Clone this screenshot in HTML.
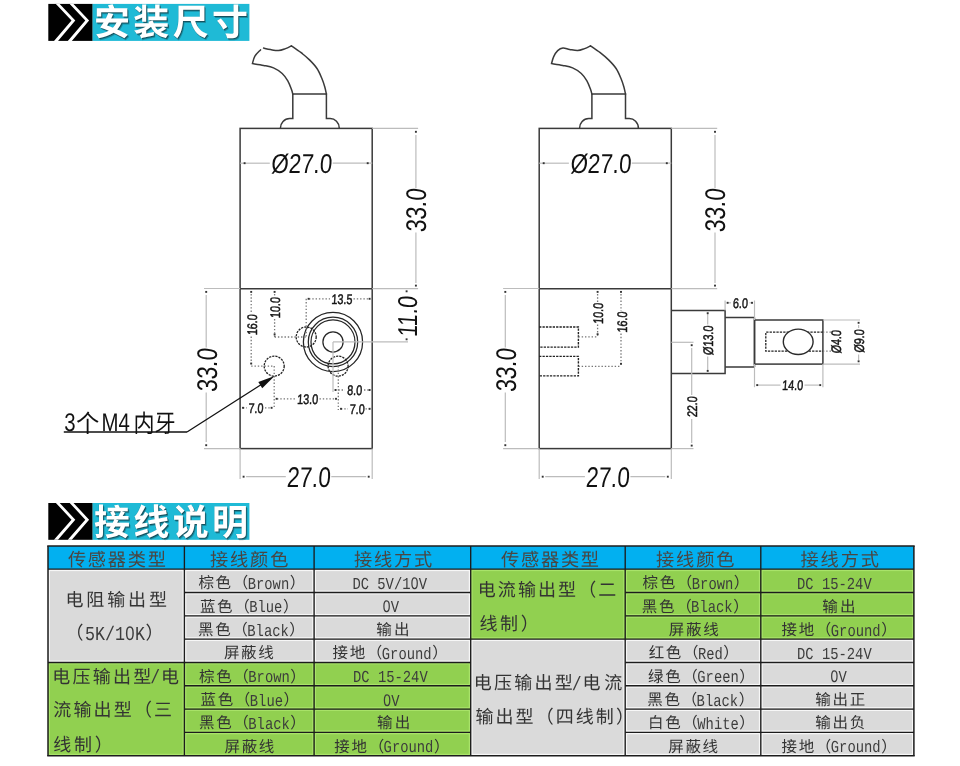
<!DOCTYPE html>
<html lang="zh-CN">
<head>
<meta charset="utf-8">
<title>安装尺寸 / 接线说明</title>
<style>
html,body{margin:0;padding:0;background:#fff}
body{width:960px;height:766px;overflow:hidden;font-family:"Liberation Sans",sans-serif}
svg{display:block}
text{white-space:pre;text-rendering:geometricPrecision}
.cj{font-family:"Liberation Sans","Noto Sans CJK SC",sans-serif}
</style>
</head>
<body>
<svg width="960" height="766" viewBox="0 0 960 766" role="img">
<g opacity="0.999">
<rect x="48.3" y="3.9" width="44.4" height="37" fill="#000"/>
<rect x="92.6" y="3.9" width="156.8" height="37" fill="#1fbad6"/>
<polygon points="55.9,3.9 59.7,3.9 75.3,20.62 58,40.9 54,40.9 71.5,20.62" fill="#fff"/>
<polygon points="69.7,3.9 73.5,3.9 89.1,20.62 71.8,40.9 67.8,40.9 85.3,20.62" fill="#fff"/>
<text class="cj" x="94" y="35.2" font-size="36" font-weight="bold" fill="#10242a" opacity="0.3" textLength="154" transform="translate(1.5 1.5)">安装尺寸</text>
<text class="cj" x="94" y="35.2" font-size="36" font-weight="bold" fill="#10242a" opacity="0.55" textLength="154" transform="translate(0.8 0.8)">安装尺寸</text>
<text class="cj" x="94" y="35.2" font-size="36" font-weight="bold" fill="#10242a" opacity="0.18" textLength="154" transform="translate(-0.5 -0.5)">安装尺寸</text>
<text class="cj" x="94" y="35.2" font-size="36" font-weight="bold" fill="#fff" textLength="154">安装尺寸</text>
<rect x="48.3" y="503" width="44.4" height="36.8" fill="#000"/>
<rect x="92.6" y="503" width="156.8" height="36.8" fill="#1fbad6"/>
<polygon points="55.9,503 59.7,503 75.3,519.63 58,539.8 54,539.8 71.5,519.63" fill="#fff"/>
<polygon points="69.7,503 73.5,503 89.1,519.63 71.8,539.8 67.8,539.8 85.3,519.63" fill="#fff"/>
<text class="cj" x="94" y="535" font-size="36" font-weight="bold" fill="#10242a" opacity="0.3" textLength="154" transform="translate(1.5 1.5)">接线说明</text>
<text class="cj" x="94" y="535" font-size="36" font-weight="bold" fill="#10242a" opacity="0.55" textLength="154" transform="translate(0.8 0.8)">接线说明</text>
<text class="cj" x="94" y="535" font-size="36" font-weight="bold" fill="#10242a" opacity="0.18" textLength="154" transform="translate(-0.5 -0.5)">接线说明</text>
<text class="cj" x="94" y="535" font-size="36" font-weight="bold" fill="#fff" textLength="154">接线说明</text>
<path d="M280.4 128.4 A9.2 9.6 0 0 1 289.6 118.6 H292.8 V94.1 H326.4 V118.6 H329.6 A9.2 9.6 0 0 1 339.3 128.4" fill="none" stroke="#3a3a3a" stroke-width="1.5"/>
<path d="M292.8 94.1 C292.58 93.35 292.33 91.8 291.5 89.6 C290.67 87.4 289.35 83.58 287.8 80.9 C286.25 78.22 284.58 75.67 282.2 73.5 C279.82 71.33 276.6 69.25 273.5 67.9 C270.4 66.55 267.12 66.12 263.6 65.4 C260.08 64.68 254.27 63.9 252.4 63.6 M252.4 63.6 C252.82 62.35 253.55 58.38 254.9 56.1 C256.25 53.82 259.57 50.93 260.5 49.9 M263.6 48.1 C264.75 48.35 268.02 49.18 270.5 49.6 C272.98 50.02 276 50.77 278.5 50.6 C281 50.43 283.33 49.4 285.5 48.6 C287.67 47.8 290.5 46.27 291.5 45.8 M291.5 45.8 C293.05 46.9 297.8 50.05 300.8 52.4 C303.8 54.75 306.8 57.22 309.5 59.9 C312.2 62.58 314.93 65.4 317 68.5 C319.07 71.6 320.6 75.42 321.9 78.5 C323.2 81.58 324.05 84.4 324.8 87 C325.55 89.6 326.13 92.92 326.4 94.1" fill="none" stroke="#3a3a3a" stroke-width="1.5" stroke-linejoin="round" stroke-linecap="round"/>
<rect x="240.1" y="128.4" width="132.1" height="320.2" fill="none" stroke="#3a3a3a" stroke-width="1.5"/>
<line x1="240.1" y1="288.7" x2="372.2" y2="288.7" stroke="#3a3a3a" stroke-width="1.5"/>
<line x1="240.1" y1="163.2" x2="269.8" y2="163.2" stroke="#bcbcbc" stroke-width="1.2"/>
<line x1="332.7" y1="163.2" x2="372.2" y2="163.2" stroke="#bcbcbc" stroke-width="1.2"/>
<rect x="243.65" y="162.25" width="1.9" height="1.9" fill="#333"/>
<rect x="366.75" y="162.25" width="1.9" height="1.9" fill="#333"/>
<text font-family="Liberation Sans" font-size="27.3" font-weight="normal" fill="#111" text-anchor="middle" transform="translate(301.3 163.4) rotate(0) translate(0 9.77) skewX(-4) scale(0.82 1)">Ø27.0</text>
<line x1="372.2" y1="128.4" x2="418.1" y2="128.4" stroke="#bcbcbc" stroke-width="1.2"/>
<line x1="372.2" y1="288.7" x2="418.1" y2="288.7" stroke="#bcbcbc" stroke-width="1.2"/>
<line x1="415.9" y1="135" x2="415.9" y2="188.3" stroke="#bcbcbc" stroke-width="1.2"/>
<line x1="415.9" y1="232.5" x2="415.9" y2="283" stroke="#bcbcbc" stroke-width="1.2"/>
<rect x="414.95" y="130.85" width="1.9" height="1.9" fill="#333"/>
<rect x="414.95" y="284.65" width="1.9" height="1.9" fill="#333"/>
<text font-family="Liberation Sans" font-size="28.5" font-weight="normal" fill="#111" text-anchor="middle" transform="translate(416.1 210.6) rotate(-90) translate(0 10.2) skewX(-4) scale(0.79 1)">33.0</text>
<line x1="204" y1="288.5" x2="240.1" y2="288.5" stroke="#bcbcbc" stroke-width="1.2"/>
<line x1="204" y1="448.6" x2="240.1" y2="448.6" stroke="#bcbcbc" stroke-width="1.2"/>
<line x1="206.2" y1="295" x2="206.2" y2="347.5" stroke="#bcbcbc" stroke-width="1.2"/>
<line x1="206.2" y1="392.5" x2="206.2" y2="442" stroke="#bcbcbc" stroke-width="1.2"/>
<rect x="205.25" y="290.95" width="1.9" height="1.9" fill="#333"/>
<rect x="205.25" y="444.25" width="1.9" height="1.9" fill="#333"/>
<text font-family="Liberation Sans" font-size="28.5" font-weight="normal" fill="#111" text-anchor="middle" transform="translate(206.5 370.4) rotate(-90) translate(0 10.2) skewX(-4) scale(0.79 1)">33.0</text>
<line x1="240.1" y1="448.6" x2="240.1" y2="479" stroke="#bcbcbc" stroke-width="1.2"/>
<line x1="372.2" y1="448.6" x2="372.2" y2="479" stroke="#bcbcbc" stroke-width="1.2"/>
<line x1="246.1" y1="476.7" x2="285.8" y2="476.7" stroke="#bcbcbc" stroke-width="1.2"/>
<line x1="331.3" y1="476.7" x2="366.2" y2="476.7" stroke="#bcbcbc" stroke-width="1.2"/>
<rect x="242.65" y="475.75" width="1.9" height="1.9" fill="#333"/>
<rect x="367.75" y="475.75" width="1.9" height="1.9" fill="#333"/>
<text font-family="Liberation Sans" font-size="28.5" font-weight="normal" fill="#111" text-anchor="middle" transform="translate(308.3 476.8) rotate(0) translate(0 10.2) skewX(-4) scale(0.79 1)">27.0</text>
<path d="M579.5 128.4 A9.2 9.6 0 0 1 588.7 118.6 H591.9 V94.1 H625.5 V118.6 H628.7 A9.2 9.6 0 0 1 638.4 128.4" fill="none" stroke="#3a3a3a" stroke-width="1.5"/>
<path d="M591.9 94.1 C591.68 93.35 591.43 91.8 590.6 89.6 C589.77 87.4 588.45 83.58 586.9 80.9 C585.35 78.22 583.68 75.67 581.3 73.5 C578.92 71.33 575.7 69.25 572.6 67.9 C569.5 66.55 566.22 66.12 562.7 65.4 C559.18 64.68 553.37 63.9 551.5 63.6 M551.5 63.6 C551.87 62.43 552.67 58.77 553.7 56.6 C554.73 54.43 556.17 52.03 557.7 50.6 C559.23 49.17 560.92 48.2 562.9 48 C564.88 47.8 567.15 48.97 569.6 49.4 C572.05 49.83 575.1 50.73 577.6 50.6 C580.1 50.47 582.43 49.4 584.6 48.6 C586.77 47.8 589.6 46.27 590.6 45.8 M590.6 45.8 C592.15 46.9 596.9 50.05 599.9 52.4 C602.9 54.75 605.9 57.22 608.6 59.9 C611.3 62.58 614.03 65.4 616.1 68.5 C618.17 71.6 619.7 75.42 621 78.5 C622.3 81.58 623.15 84.4 623.9 87 C624.65 89.6 625.23 92.92 625.5 94.1" fill="none" stroke="#3a3a3a" stroke-width="1.5" stroke-linejoin="round" stroke-linecap="round"/>
<rect x="539.2" y="128.4" width="132.1" height="320.2" fill="none" stroke="#3a3a3a" stroke-width="1.5"/>
<line x1="539.2" y1="288.7" x2="671.3" y2="288.7" stroke="#3a3a3a" stroke-width="1.5"/>
<line x1="539.2" y1="163.2" x2="568.9" y2="163.2" stroke="#bcbcbc" stroke-width="1.2"/>
<line x1="631.8" y1="163.2" x2="671.3" y2="163.2" stroke="#bcbcbc" stroke-width="1.2"/>
<rect x="542.75" y="162.25" width="1.9" height="1.9" fill="#333"/>
<rect x="665.85" y="162.25" width="1.9" height="1.9" fill="#333"/>
<text font-family="Liberation Sans" font-size="27.3" font-weight="normal" fill="#111" text-anchor="middle" transform="translate(600.4 163.4) rotate(0) translate(0 9.77) skewX(-4) scale(0.82 1)">Ø27.0</text>
<line x1="671.3" y1="128.4" x2="717.2" y2="128.4" stroke="#bcbcbc" stroke-width="1.2"/>
<line x1="671.3" y1="288.7" x2="717.2" y2="288.7" stroke="#bcbcbc" stroke-width="1.2"/>
<line x1="715" y1="135" x2="715" y2="188.3" stroke="#bcbcbc" stroke-width="1.2"/>
<line x1="715" y1="232.5" x2="715" y2="283" stroke="#bcbcbc" stroke-width="1.2"/>
<rect x="714.05" y="130.85" width="1.9" height="1.9" fill="#333"/>
<rect x="714.05" y="284.65" width="1.9" height="1.9" fill="#333"/>
<text font-family="Liberation Sans" font-size="28.5" font-weight="normal" fill="#111" text-anchor="middle" transform="translate(715.2 210.6) rotate(-90) translate(0 10.2) skewX(-4) scale(0.79 1)">33.0</text>
<line x1="503.1" y1="288.5" x2="539.2" y2="288.5" stroke="#bcbcbc" stroke-width="1.2"/>
<line x1="503.1" y1="448.6" x2="539.2" y2="448.6" stroke="#bcbcbc" stroke-width="1.2"/>
<line x1="505.3" y1="295" x2="505.3" y2="347.5" stroke="#bcbcbc" stroke-width="1.2"/>
<line x1="505.3" y1="392.5" x2="505.3" y2="442" stroke="#bcbcbc" stroke-width="1.2"/>
<rect x="504.35" y="290.95" width="1.9" height="1.9" fill="#333"/>
<rect x="504.35" y="444.25" width="1.9" height="1.9" fill="#333"/>
<text font-family="Liberation Sans" font-size="28.5" font-weight="normal" fill="#111" text-anchor="middle" transform="translate(505.6 370.4) rotate(-90) translate(0 10.2) skewX(-4) scale(0.79 1)">33.0</text>
<line x1="539.2" y1="448.6" x2="539.2" y2="479" stroke="#bcbcbc" stroke-width="1.2"/>
<line x1="671.3" y1="448.6" x2="671.3" y2="479" stroke="#bcbcbc" stroke-width="1.2"/>
<line x1="545.2" y1="476.7" x2="584.9" y2="476.7" stroke="#bcbcbc" stroke-width="1.2"/>
<line x1="630.4" y1="476.7" x2="665.3" y2="476.7" stroke="#bcbcbc" stroke-width="1.2"/>
<rect x="541.75" y="475.75" width="1.9" height="1.9" fill="#333"/>
<rect x="666.85" y="475.75" width="1.9" height="1.9" fill="#333"/>
<text font-family="Liberation Sans" font-size="28.5" font-weight="normal" fill="#111" text-anchor="middle" transform="translate(607.4 476.8) rotate(0) translate(0 10.2) skewX(-4) scale(0.79 1)">27.0</text>
<circle cx="333" cy="341.9" r="29.6" fill="none" stroke="#262626" stroke-width="1.25"/>
<circle cx="333" cy="341.9" r="24.7" fill="none" stroke="#262626" stroke-width="1.25"/>
<circle cx="333" cy="341.9" r="22.0" fill="none" stroke="#262626" stroke-width="1.25"/>
<circle cx="333" cy="341.9" r="10.1" fill="none" stroke="#262626" stroke-width="1.25"/>
<circle cx="306.2" cy="337" r="10" fill="none" stroke="#222" stroke-width="1.3" stroke-dasharray="2.2 1.0"/>
<circle cx="274.2" cy="366.1" r="10" fill="none" stroke="#222" stroke-width="1.3" stroke-dasharray="2.2 1.0"/>
<circle cx="338.1" cy="366.1" r="10" fill="none" stroke="#222" stroke-width="1.3" stroke-dasharray="2.2 1.0"/>
<line x1="333" y1="341.9" x2="408" y2="341.9" stroke="#bcbcbc" stroke-width="1.2"/>
<line x1="333" y1="341.9" x2="333" y2="392" stroke="#bcbcbc" stroke-width="1.2"/>
<rect x="405.65" y="290.35" width="1.9" height="1.9" fill="#333"/>
<rect x="405.65" y="338.35" width="1.9" height="1.9" fill="#333"/>
<text font-family="Liberation Sans" font-size="27.3" font-weight="normal" fill="#111" text-anchor="middle" transform="translate(406.9 316.8) rotate(-90) translate(0 9.77) skewX(-4) scale(0.8 1)">11.0</text>
<line x1="251.2" y1="294" x2="251.2" y2="313.5" stroke="#777" stroke-width="1.3" stroke-dasharray="1.4 1.9"/>
<line x1="251.2" y1="336.5" x2="251.2" y2="366.1" stroke="#777" stroke-width="1.3" stroke-dasharray="1.4 1.9"/>
<line x1="251.2" y1="366.1" x2="274.2" y2="366.1" stroke="#777" stroke-width="1.3" stroke-dasharray="1.4 1.9"/>
<rect x="250.25" y="290.95" width="1.9" height="1.9" fill="#333"/>
<rect x="250.25" y="362.55" width="1.9" height="1.9" fill="#333"/>
<text font-family="Liberation Sans" font-size="13.8" font-weight="normal" fill="#151515" stroke="#151515" stroke-width="0.5" text-anchor="middle" transform="translate(251.7 324.9) rotate(-90) translate(0 4.94) skewX(-3) scale(0.78 1)">16.0</text>
<line x1="274.6" y1="294" x2="274.6" y2="297" stroke="#777" stroke-width="1.3" stroke-dasharray="1.4 1.9"/>
<line x1="274.6" y1="319" x2="274.6" y2="337" stroke="#777" stroke-width="1.3" stroke-dasharray="1.4 1.9"/>
<line x1="274.6" y1="337" x2="306.2" y2="337" stroke="#777" stroke-width="1.3" stroke-dasharray="1.4 1.9"/>
<rect x="273.65" y="290.95" width="1.9" height="1.9" fill="#333"/>
<rect x="273.65" y="333.45" width="1.9" height="1.9" fill="#333"/>
<text font-family="Liberation Sans" font-size="13.8" font-weight="normal" fill="#151515" stroke="#151515" stroke-width="0.5" text-anchor="middle" transform="translate(275.1 307.8) rotate(-90) translate(0 4.94) skewX(-3) scale(0.78 1)">10.0</text>
<line x1="309" y1="298.8" x2="330" y2="298.8" stroke="#777" stroke-width="1.3" stroke-dasharray="1.4 1.9"/>
<line x1="353.5" y1="298.8" x2="369" y2="298.8" stroke="#777" stroke-width="1.3" stroke-dasharray="1.4 1.9"/>
<line x1="306.2" y1="298.8" x2="306.2" y2="337" stroke="#777" stroke-width="1.3" stroke-dasharray="1.4 1.9"/>
<rect x="307.65" y="297.85" width="1.9" height="1.9" fill="#333"/>
<rect x="368.65" y="297.85" width="1.9" height="1.9" fill="#333"/>
<text font-family="Liberation Sans" font-size="13.8" font-weight="normal" fill="#151515" stroke="#151515" stroke-width="0.5" text-anchor="middle" transform="translate(341.7 299) rotate(0) translate(0 4.94) skewX(-3) scale(0.78 1)">13.5</text>
<line x1="277" y1="398.8" x2="295.5" y2="398.8" stroke="#777" stroke-width="1.3" stroke-dasharray="1.4 1.9"/>
<line x1="319.5" y1="398.8" x2="336" y2="398.8" stroke="#777" stroke-width="1.3" stroke-dasharray="1.4 1.9"/>
<rect x="275.65" y="397.85" width="1.9" height="1.9" fill="#333"/>
<rect x="335.05" y="397.85" width="1.9" height="1.9" fill="#333"/>
<text font-family="Liberation Sans" font-size="13.8" font-weight="normal" fill="#151515" stroke="#151515" stroke-width="0.5" text-anchor="middle" transform="translate(307.5 399.2) rotate(0) translate(0 4.94) skewX(-3) scale(0.78 1)">13.0</text>
<line x1="274.2" y1="366.1" x2="274.2" y2="408.5" stroke="#777" stroke-width="1.3" stroke-dasharray="1.4 1.9"/>
<line x1="243" y1="407.8" x2="247" y2="407.8" stroke="#777" stroke-width="1.3" stroke-dasharray="1.4 1.9"/>
<line x1="265" y1="407.8" x2="272" y2="407.8" stroke="#777" stroke-width="1.3" stroke-dasharray="1.4 1.9"/>
<rect x="242.05" y="406.85" width="1.9" height="1.9" fill="#333"/>
<rect x="270.65" y="406.85" width="1.9" height="1.9" fill="#333"/>
<text font-family="Liberation Sans" font-size="13.8" font-weight="normal" fill="#151515" stroke="#151515" stroke-width="0.5" text-anchor="middle" transform="translate(255.8 408.1) rotate(0) translate(0 4.94) skewX(-3) scale(0.78 1)">7.0</text>
<line x1="335" y1="390" x2="345" y2="390" stroke="#777" stroke-width="1.3" stroke-dasharray="1.4 1.9"/>
<line x1="364" y1="390" x2="370" y2="390" stroke="#777" stroke-width="1.3" stroke-dasharray="1.4 1.9"/>
<rect x="334.55" y="389.05" width="1.9" height="1.9" fill="#333"/>
<rect x="368.65" y="389.05" width="1.9" height="1.9" fill="#333"/>
<text font-family="Liberation Sans" font-size="13.8" font-weight="normal" fill="#151515" stroke="#151515" stroke-width="0.5" text-anchor="middle" transform="translate(354.6 390.2) rotate(0) translate(0 4.94) skewX(-3) scale(0.78 1)">8.0</text>
<line x1="338.3" y1="366.1" x2="338.3" y2="410" stroke="#777" stroke-width="1.3" stroke-dasharray="1.4 1.9"/>
<line x1="341" y1="408.8" x2="348" y2="408.8" stroke="#777" stroke-width="1.3" stroke-dasharray="1.4 1.9"/>
<line x1="365.5" y1="408.8" x2="370" y2="408.8" stroke="#777" stroke-width="1.3" stroke-dasharray="1.4 1.9"/>
<rect x="340.05" y="407.85" width="1.9" height="1.9" fill="#333"/>
<rect x="368.65" y="407.85" width="1.9" height="1.9" fill="#333"/>
<text font-family="Liberation Sans" font-size="13.8" font-weight="normal" fill="#151515" stroke="#151515" stroke-width="0.5" text-anchor="middle" transform="translate(357 409.2) rotate(0) translate(0 4.94) skewX(-3) scale(0.78 1)">7.0</text>
<line x1="63.8" y1="432" x2="187" y2="432" stroke="#111" stroke-width="1.3"/>
<line x1="187" y1="432" x2="268" y2="380.2" stroke="#111" stroke-width="1.3"/>
<polygon points="274.6,376 258.34,382.12 262.22,388.19" fill="#111"/>
<text font-family="Liberation Sans" font-size="25.5" fill="#111" transform="translate(64.2 431.2) scale(0.8 1)">3</text>
<text class="cj" x="76.1" y="431.6" font-size="24.5" fill="#111" textLength="23.3" lengthAdjust="spacingAndGlyphs">个</text>
<text font-family="Liberation Sans" font-size="25.5" fill="#111" transform="translate(101.5 431.2) scale(0.8 1)">M4</text>
<text class="cj" x="133.4" y="431.6" font-size="24.5" fill="#111" textLength="42.1" lengthAdjust="spacingAndGlyphs">内牙</text>
<path d="M539.1 327 H578.4 V347.1 H539.1" fill="none" stroke="#222" stroke-width="1.4" stroke-dasharray="2.3 1.1"/>
<path d="M539.1 356.4 H578.4 V375.9 H539.1" fill="none" stroke="#222" stroke-width="1.4" stroke-dasharray="2.3 1.1"/>
<line x1="597.6" y1="294" x2="597.6" y2="302.5" stroke="#777" stroke-width="1.3" stroke-dasharray="1.4 1.9"/>
<line x1="597.6" y1="324.5" x2="597.6" y2="336.8" stroke="#777" stroke-width="1.3" stroke-dasharray="1.4 1.9"/>
<line x1="578.4" y1="336.8" x2="597.6" y2="336.8" stroke="#777" stroke-width="1.3" stroke-dasharray="1.4 1.9"/>
<rect x="596.65" y="290.95" width="1.9" height="1.9" fill="#333"/>
<rect x="596.65" y="333.25" width="1.9" height="1.9" fill="#333"/>
<text font-family="Liberation Sans" font-size="13.8" font-weight="normal" fill="#151515" stroke="#151515" stroke-width="0.5" text-anchor="middle" transform="translate(598.3 313.6) rotate(-90) translate(0 4.94) skewX(-3) scale(0.78 1)">10.0</text>
<line x1="621" y1="294" x2="621" y2="311" stroke="#777" stroke-width="1.3" stroke-dasharray="1.4 1.9"/>
<line x1="621" y1="333.5" x2="621" y2="366.4" stroke="#777" stroke-width="1.3" stroke-dasharray="1.4 1.9"/>
<line x1="578.4" y1="366.4" x2="621" y2="366.4" stroke="#777" stroke-width="1.3" stroke-dasharray="1.4 1.9"/>
<rect x="620.05" y="290.95" width="1.9" height="1.9" fill="#333"/>
<rect x="620.05" y="362.85" width="1.9" height="1.9" fill="#333"/>
<text font-family="Liberation Sans" font-size="13.8" font-weight="normal" fill="#151515" stroke="#151515" stroke-width="0.5" text-anchor="middle" transform="translate(621.8 322.2) rotate(-90) translate(0 4.94) skewX(-3) scale(0.78 1)">16.0</text>
<path d="M671.3 310.6 H725.1 V373.5 H671.3" fill="none" stroke="#3a3a3a" stroke-width="1.5"/>
<path d="M725.1 317.6 H754.5 M725.1 367 H754.5" fill="none" stroke="#3a3a3a" stroke-width="1.5"/>
<rect x="754.5" y="320" width="68.4" height="44.1" fill="none" stroke="#3a3a3a" stroke-width="1.5"/>
<line x1="754.5" y1="317.6" x2="754.5" y2="367" stroke="#3a3a3a" stroke-width="1.5"/>
<path d="M822.9 332.2 H765.8 V351.2 H822.9" fill="none" stroke="#222" stroke-width="1.3" stroke-dasharray="2.3 1.1"/>
<ellipse cx="798.2" cy="341.8" rx="14.9" ry="12.7" fill="#fff" stroke="#2a2a2a" stroke-width="1.4"/>
<line x1="725.1" y1="300.5" x2="725.1" y2="310.6" stroke="#bcbcbc" stroke-width="1.2"/>
<line x1="754.5" y1="300.5" x2="754.5" y2="320" stroke="#bcbcbc" stroke-width="1.2"/>
<line x1="727" y1="302.8" x2="731" y2="302.8" stroke="#bcbcbc" stroke-width="1.2"/>
<line x1="749.5" y1="302.8" x2="753" y2="302.8" stroke="#bcbcbc" stroke-width="1.2"/>
<rect x="726.65" y="301.85" width="1.9" height="1.9" fill="#333"/>
<rect x="751.05" y="301.85" width="1.9" height="1.9" fill="#333"/>
<text font-family="Liberation Sans" font-size="13.8" font-weight="normal" fill="#151515" stroke="#151515" stroke-width="0.5" text-anchor="middle" transform="translate(740.3 302.9) rotate(0) translate(0 4.94) skewX(-3) scale(0.78 1)">6.0</text>
<line x1="707.7" y1="314" x2="707.7" y2="324.5" stroke="#bcbcbc" stroke-width="1.2"/>
<line x1="707.7" y1="356.5" x2="707.7" y2="370" stroke="#bcbcbc" stroke-width="1.2"/>
<rect x="706.75" y="312.25" width="1.9" height="1.9" fill="#333"/>
<rect x="706.75" y="369.95" width="1.9" height="1.9" fill="#333"/>
<text font-family="Liberation Sans" font-size="13.8" font-weight="normal" fill="#151515" stroke="#151515" stroke-width="0.5" text-anchor="middle" transform="translate(708.3 340.5) rotate(-90) translate(0 4.94) skewX(-3) scale(0.78 1)">Ø13.0</text>
<line x1="671.3" y1="342.3" x2="693.5" y2="342.3" stroke="#bcbcbc" stroke-width="1.2"/>
<line x1="671.3" y1="448.6" x2="693.5" y2="448.6" stroke="#bcbcbc" stroke-width="1.2"/>
<line x1="691.7" y1="348" x2="691.7" y2="395" stroke="#bcbcbc" stroke-width="1.2"/>
<line x1="691.7" y1="419" x2="691.7" y2="443" stroke="#bcbcbc" stroke-width="1.2"/>
<rect x="690.75" y="344.25" width="1.9" height="1.9" fill="#333"/>
<rect x="690.75" y="444.65" width="1.9" height="1.9" fill="#333"/>
<text font-family="Liberation Sans" font-size="13.8" font-weight="normal" fill="#151515" stroke="#151515" stroke-width="0.5" text-anchor="middle" transform="translate(691.7 406.9) rotate(-90) translate(0 4.94) skewX(-3) scale(0.78 1)">22.0</text>
<line x1="754.5" y1="364.1" x2="754.5" y2="387.2" stroke="#bcbcbc" stroke-width="1.2"/>
<line x1="822.9" y1="364.1" x2="822.9" y2="387.2" stroke="#bcbcbc" stroke-width="1.2"/>
<line x1="758" y1="385.1" x2="780.5" y2="385.1" stroke="#bcbcbc" stroke-width="1.2"/>
<line x1="804.5" y1="385.1" x2="819" y2="385.1" stroke="#bcbcbc" stroke-width="1.2"/>
<rect x="756.25" y="384.15" width="1.9" height="1.9" fill="#333"/>
<rect x="819.25" y="384.15" width="1.9" height="1.9" fill="#333"/>
<text font-family="Liberation Sans" font-size="13.8" font-weight="normal" fill="#151515" stroke="#151515" stroke-width="0.5" text-anchor="middle" transform="translate(792.5 385.3) rotate(0) translate(0 4.94) skewX(-3) scale(0.78 1)">14.0</text>
<line x1="822.9" y1="332.2" x2="832" y2="332.2" stroke="#777" stroke-width="1.3" stroke-dasharray="1.4 1.9"/>
<line x1="822.9" y1="351.2" x2="832" y2="351.2" stroke="#777" stroke-width="1.3" stroke-dasharray="1.4 1.9"/>
<text font-family="Liberation Sans" font-size="13.8" font-weight="normal" fill="#151515" stroke="#151515" stroke-width="0.5" text-anchor="middle" transform="translate(836.2 341.9) rotate(-90) translate(0 4.94) skewX(-3) scale(0.78 1)">Ø4.0</text>
<line x1="822.9" y1="320" x2="860" y2="320" stroke="#bcbcbc" stroke-width="1.2"/>
<line x1="822.9" y1="364.1" x2="860" y2="364.1" stroke="#bcbcbc" stroke-width="1.2"/>
<line x1="858.6" y1="325" x2="858.6" y2="328" stroke="#bcbcbc" stroke-width="1.2"/>
<line x1="858.6" y1="354.5" x2="858.6" y2="360" stroke="#bcbcbc" stroke-width="1.2"/>
<rect x="857.65" y="321.85" width="1.9" height="1.9" fill="#333"/>
<rect x="857.65" y="360.35" width="1.9" height="1.9" fill="#333"/>
<text font-family="Liberation Sans" font-size="13.8" font-weight="normal" fill="#151515" stroke="#151515" stroke-width="0.5" text-anchor="middle" transform="translate(858.9 341.2) rotate(-90) translate(0 4.94) skewX(-3) scale(0.78 1)">Ø9.0</text>
<rect x="48" y="546" width="865.9" height="23.2" fill="#02b0f0"/>
<rect x="48" y="569.2" width="422.7" height="93.25" fill="#dadada"/>
<rect x="48" y="662.45" width="422.7" height="93.25" fill="#91d050"/>
<rect x="470.7" y="569.2" width="443.2" height="69.94" fill="#91d050"/>
<rect x="470.7" y="639.14" width="443.2" height="116.56" fill="#dadada"/>
<rect x="49.25" y="570.45" width="133.9" height="90.75" fill="none" stroke="#f7f7f7" stroke-width="1.3"/>
<rect x="49.25" y="663.7" width="133.9" height="90.75" fill="none" stroke="#a9e36a" stroke-width="1.3"/>
<rect x="471.95" y="570.45" width="152" height="67.44" fill="none" stroke="#a9e36a" stroke-width="1.3"/>
<rect x="471.95" y="640.39" width="152" height="114.06" fill="none" stroke="#f7f7f7" stroke-width="1.3"/>
<rect x="185.65" y="570.45" width="127.2" height="20.81" fill="none" stroke="#f7f7f7" stroke-width="1.3"/>
<rect x="315.35" y="570.45" width="154.1" height="20.81" fill="none" stroke="#f7f7f7" stroke-width="1.3"/>
<rect x="626.45" y="570.45" width="133.1" height="20.81" fill="none" stroke="#a9e36a" stroke-width="1.3"/>
<rect x="762.05" y="570.45" width="150.6" height="20.81" fill="none" stroke="#a9e36a" stroke-width="1.3"/>
<rect x="185.65" y="593.76" width="127.2" height="20.81" fill="none" stroke="#f7f7f7" stroke-width="1.3"/>
<rect x="315.35" y="593.76" width="154.1" height="20.81" fill="none" stroke="#f7f7f7" stroke-width="1.3"/>
<rect x="626.45" y="593.76" width="133.1" height="20.81" fill="none" stroke="#a9e36a" stroke-width="1.3"/>
<rect x="762.05" y="593.76" width="150.6" height="20.81" fill="none" stroke="#a9e36a" stroke-width="1.3"/>
<rect x="185.65" y="617.08" width="127.2" height="20.81" fill="none" stroke="#f7f7f7" stroke-width="1.3"/>
<rect x="315.35" y="617.08" width="154.1" height="20.81" fill="none" stroke="#f7f7f7" stroke-width="1.3"/>
<rect x="626.45" y="617.08" width="133.1" height="20.81" fill="none" stroke="#a9e36a" stroke-width="1.3"/>
<rect x="762.05" y="617.08" width="150.6" height="20.81" fill="none" stroke="#a9e36a" stroke-width="1.3"/>
<rect x="185.65" y="640.39" width="127.2" height="20.81" fill="none" stroke="#f7f7f7" stroke-width="1.3"/>
<rect x="315.35" y="640.39" width="154.1" height="20.81" fill="none" stroke="#f7f7f7" stroke-width="1.3"/>
<rect x="626.45" y="640.39" width="133.1" height="20.81" fill="none" stroke="#f7f7f7" stroke-width="1.3"/>
<rect x="762.05" y="640.39" width="150.6" height="20.81" fill="none" stroke="#f7f7f7" stroke-width="1.3"/>
<rect x="185.65" y="663.7" width="127.2" height="20.81" fill="none" stroke="#a9e36a" stroke-width="1.3"/>
<rect x="315.35" y="663.7" width="154.1" height="20.81" fill="none" stroke="#a9e36a" stroke-width="1.3"/>
<rect x="626.45" y="663.7" width="133.1" height="20.81" fill="none" stroke="#f7f7f7" stroke-width="1.3"/>
<rect x="762.05" y="663.7" width="150.6" height="20.81" fill="none" stroke="#f7f7f7" stroke-width="1.3"/>
<rect x="185.65" y="687.01" width="127.2" height="20.81" fill="none" stroke="#a9e36a" stroke-width="1.3"/>
<rect x="315.35" y="687.01" width="154.1" height="20.81" fill="none" stroke="#a9e36a" stroke-width="1.3"/>
<rect x="626.45" y="687.01" width="133.1" height="20.81" fill="none" stroke="#f7f7f7" stroke-width="1.3"/>
<rect x="762.05" y="687.01" width="150.6" height="20.81" fill="none" stroke="#f7f7f7" stroke-width="1.3"/>
<rect x="185.65" y="710.33" width="127.2" height="20.81" fill="none" stroke="#a9e36a" stroke-width="1.3"/>
<rect x="315.35" y="710.33" width="154.1" height="20.81" fill="none" stroke="#a9e36a" stroke-width="1.3"/>
<rect x="626.45" y="710.33" width="133.1" height="20.81" fill="none" stroke="#f7f7f7" stroke-width="1.3"/>
<rect x="762.05" y="710.33" width="150.6" height="20.81" fill="none" stroke="#f7f7f7" stroke-width="1.3"/>
<rect x="185.65" y="733.64" width="127.2" height="20.81" fill="none" stroke="#a9e36a" stroke-width="1.3"/>
<rect x="315.35" y="733.64" width="154.1" height="20.81" fill="none" stroke="#a9e36a" stroke-width="1.3"/>
<rect x="626.45" y="733.64" width="133.1" height="20.81" fill="none" stroke="#f7f7f7" stroke-width="1.3"/>
<rect x="762.05" y="733.64" width="150.6" height="20.81" fill="none" stroke="#f7f7f7" stroke-width="1.3"/>
<line x1="47.2" y1="546" x2="914.7" y2="546" stroke="#1c1c1c" stroke-width="1.7"/>
<line x1="48" y1="569.2" x2="913.9" y2="569.2" stroke="#1c1c1c" stroke-width="1.3"/>
<line x1="47.2" y1="755.7" x2="914.7" y2="755.7" stroke="#1c1c1c" stroke-width="1.5"/>
<line x1="184.4" y1="592.51" x2="470.7" y2="592.51" stroke="#1c1c1c" stroke-width="1.4"/>
<line x1="625.2" y1="592.51" x2="913.9" y2="592.51" stroke="#1c1c1c" stroke-width="1.4"/>
<line x1="184.4" y1="615.83" x2="470.7" y2="615.83" stroke="#1c1c1c" stroke-width="1.4"/>
<line x1="625.2" y1="615.83" x2="913.9" y2="615.83" stroke="#1c1c1c" stroke-width="1.4"/>
<line x1="184.4" y1="639.14" x2="470.7" y2="639.14" stroke="#1c1c1c" stroke-width="1.4"/>
<line x1="625.2" y1="639.14" x2="913.9" y2="639.14" stroke="#1c1c1c" stroke-width="1.4"/>
<line x1="184.4" y1="662.45" x2="470.7" y2="662.45" stroke="#1c1c1c" stroke-width="1.4"/>
<line x1="625.2" y1="662.45" x2="913.9" y2="662.45" stroke="#1c1c1c" stroke-width="1.4"/>
<line x1="184.4" y1="685.76" x2="470.7" y2="685.76" stroke="#1c1c1c" stroke-width="1.4"/>
<line x1="625.2" y1="685.76" x2="913.9" y2="685.76" stroke="#1c1c1c" stroke-width="1.4"/>
<line x1="184.4" y1="709.08" x2="470.7" y2="709.08" stroke="#1c1c1c" stroke-width="1.4"/>
<line x1="625.2" y1="709.08" x2="913.9" y2="709.08" stroke="#1c1c1c" stroke-width="1.4"/>
<line x1="184.4" y1="732.39" x2="470.7" y2="732.39" stroke="#1c1c1c" stroke-width="1.4"/>
<line x1="625.2" y1="732.39" x2="913.9" y2="732.39" stroke="#1c1c1c" stroke-width="1.4"/>
<line x1="48" y1="662.45" x2="184.4" y2="662.45" stroke="#1c1c1c" stroke-width="1.4"/>
<line x1="470.7" y1="639.14" x2="625.2" y2="639.14" stroke="#1c1c1c" stroke-width="1.4"/>
<line x1="48" y1="546" x2="48" y2="755.7" stroke="#1c1c1c" stroke-width="1.5"/>
<line x1="184.4" y1="546" x2="184.4" y2="755.7" stroke="#1c1c1c" stroke-width="1.35"/>
<line x1="314.1" y1="546" x2="314.1" y2="755.7" stroke="#1c1c1c" stroke-width="1.35"/>
<line x1="470.7" y1="546" x2="470.7" y2="755.7" stroke="#1c1c1c" stroke-width="1.35"/>
<line x1="625.2" y1="546" x2="625.2" y2="755.7" stroke="#1c1c1c" stroke-width="1.35"/>
<line x1="760.8" y1="546" x2="760.8" y2="755.7" stroke="#1c1c1c" stroke-width="1.35"/>
<line x1="913.9" y1="546" x2="913.9" y2="755.7" stroke="#1c1c1c" stroke-width="1.5"/>
<text class="cj" x="67.9" y="565.8" font-size="18.2" fill="#4a4642" textLength="98">传感器类型</text>
<text class="cj" x="209.95" y="565.8" font-size="18.2" fill="#4a4642" textLength="78.4">接线颜色</text>
<text class="cj" x="353.9" y="565.8" font-size="18.2" fill="#4a4642" textLength="78.4">接线方式</text>
<text class="cj" x="501.05" y="565.8" font-size="18.2" fill="#4a4642" textLength="98">传感器类型</text>
<text class="cj" x="656" y="565.8" font-size="18.2" fill="#4a4642" textLength="78.4">接线颜色</text>
<text class="cj" x="800.55" y="565.8" font-size="18.2" fill="#4a4642" textLength="78.4">接线方式</text>
<text class="cj" x="198.45" y="588.47" font-size="15.5" fill="#333" textLength="49.8">棕色（</text>
<text x="0 10.04 20.09 30.13 40.18" font-family="Liberation Mono" font-size="16.74" fill="#3c3c3c" transform="translate(247.7 589.17) scale(0.8264 1)" xml:space="preserve">Brown</text>
<text class="cj" x="289.75" y="588.47" font-size="15.5" fill="#333">）</text>
<text x="0 10.04 20.09 30.13 40.18 50.22 60.26 70.68 80.35" font-family="Liberation Mono" font-size="16.74" fill="#3c3c3c" transform="translate(352.4 589.17) scale(0.8264 1)" xml:space="preserve">DC 5V/1<tspan font-family="Liberation Sans">0</tspan>V</text>
<text class="cj" x="199.95" y="611.78" font-size="15.5" fill="#333" textLength="49.8">蓝色（</text>
<text x="0 10.04 20.09 30.13" font-family="Liberation Mono" font-size="16.74" fill="#3c3c3c" transform="translate(249.2 612.48) scale(0.8264 1)" xml:space="preserve">Blue</text>
<text class="cj" x="282.95" y="611.78" font-size="15.5" fill="#333">）</text>
<text x="0.37 10.04" font-family="Liberation Mono" font-size="16.74" fill="#3c3c3c" transform="translate(382.5 612.48) scale(0.8264 1)" xml:space="preserve"><tspan font-family="Liberation Sans">0</tspan>V</text>
<text class="cj" x="198.05" y="635.09" font-size="15.5" fill="#333" textLength="49.8">黑色（</text>
<text x="0 10.04 20.09 30.13 40.18" font-family="Liberation Mono" font-size="16.74" fill="#3c3c3c" transform="translate(247.3 635.79) scale(0.8264 1)" xml:space="preserve">Black</text>
<text class="cj" x="289.35" y="635.09" font-size="15.5" fill="#333">）</text>
<text class="cj" x="376.35" y="635.09" font-size="15.5" fill="#333" textLength="33.2">输出</text>
<text class="cj" x="223.95" y="658.41" font-size="15.5" fill="#333" textLength="49.8">屏蔽线</text>
<text class="cj" x="332.55" y="658.41" font-size="15.5" fill="#333" textLength="49.8">接地（</text>
<text x="0 10.04 20.09 30.13 40.18 50.22" font-family="Liberation Mono" font-size="16.74" fill="#3c3c3c" transform="translate(381.8 659.11) scale(0.8264 1)" xml:space="preserve">Ground</text>
<text class="cj" x="432.15" y="658.41" font-size="15.5" fill="#333">）</text>
<text class="cj" x="199.05" y="681.72" font-size="15.5" fill="#333" textLength="49.8">棕色（</text>
<text x="0 10.04 20.09 30.13 40.18" font-family="Liberation Mono" font-size="16.74" fill="#3c3c3c" transform="translate(248.3 682.42) scale(0.8264 1)" xml:space="preserve">Brown</text>
<text class="cj" x="290.35" y="681.72" font-size="15.5" fill="#333">）</text>
<text x="0 10.04 20.09 30.13 40.18 50.22 60.26 70.31 80.35" font-family="Liberation Mono" font-size="16.74" fill="#3c3c3c" transform="translate(353 682.42) scale(0.8264 1)" xml:space="preserve">DC 15-24V</text>
<text class="cj" x="200.55" y="705.03" font-size="15.5" fill="#333" textLength="49.8">蓝色（</text>
<text x="0 10.04 20.09 30.13" font-family="Liberation Mono" font-size="16.74" fill="#3c3c3c" transform="translate(249.8 705.73) scale(0.8264 1)" xml:space="preserve">Blue</text>
<text class="cj" x="283.55" y="705.03" font-size="15.5" fill="#333">）</text>
<text x="0.37 10.04" font-family="Liberation Mono" font-size="16.74" fill="#3c3c3c" transform="translate(382.9 705.73) scale(0.8264 1)" xml:space="preserve"><tspan font-family="Liberation Sans">0</tspan>V</text>
<text class="cj" x="199.05" y="728.34" font-size="15.5" fill="#333" textLength="49.8">黑色（</text>
<text x="0 10.04 20.09 30.13 40.18" font-family="Liberation Mono" font-size="16.74" fill="#3c3c3c" transform="translate(248.3 729.04) scale(0.8264 1)" xml:space="preserve">Black</text>
<text class="cj" x="290.35" y="728.34" font-size="15.5" fill="#333">）</text>
<text class="cj" x="376.95" y="728.34" font-size="15.5" fill="#333" textLength="33.2">输出</text>
<text class="cj" x="224.55" y="751.66" font-size="15.5" fill="#333" textLength="49.8">屏蔽线</text>
<text class="cj" x="334.35" y="751.66" font-size="15.5" fill="#333" textLength="49.8">接地（</text>
<text x="0 10.04 20.09 30.13 40.18 50.22" font-family="Liberation Mono" font-size="16.74" fill="#3c3c3c" transform="translate(383.6 752.36) scale(0.8264 1)" xml:space="preserve">Ground</text>
<text class="cj" x="433.95" y="751.66" font-size="15.5" fill="#333">）</text>
<text class="cj" x="642.55" y="588.47" font-size="15.5" fill="#333" textLength="49.8">棕色（</text>
<text x="0 10.04 20.09 30.13 40.18" font-family="Liberation Mono" font-size="16.74" fill="#3c3c3c" transform="translate(691.8 589.17) scale(0.8264 1)" xml:space="preserve">Brown</text>
<text class="cj" x="733.85" y="588.47" font-size="15.5" fill="#333">）</text>
<text x="0 10.04 20.09 30.13 40.18 50.22 60.26 70.31 80.35" font-family="Liberation Mono" font-size="16.74" fill="#3c3c3c" transform="translate(797 589.17) scale(0.8264 1)" xml:space="preserve">DC 15-24V</text>
<text class="cj" x="641.85" y="611.78" font-size="15.5" fill="#333" textLength="49.8">黑色（</text>
<text x="0 10.04 20.09 30.13 40.18" font-family="Liberation Mono" font-size="16.74" fill="#3c3c3c" transform="translate(691.1 612.48) scale(0.8264 1)" xml:space="preserve">Black</text>
<text class="cj" x="733.15" y="611.78" font-size="15.5" fill="#333">）</text>
<text class="cj" x="822.35" y="611.78" font-size="15.5" fill="#333" textLength="33.2">输出</text>
<text class="cj" x="668.85" y="635.09" font-size="15.5" fill="#333" textLength="49.8">屏蔽线</text>
<text class="cj" x="781.55" y="635.09" font-size="15.5" fill="#333" textLength="49.8">接地（</text>
<text x="0 10.04 20.09 30.13 40.18 50.22" font-family="Liberation Mono" font-size="16.74" fill="#3c3c3c" transform="translate(830.8 635.79) scale(0.8264 1)" xml:space="preserve">Ground</text>
<text class="cj" x="881.15" y="635.09" font-size="15.5" fill="#333">）</text>
<text class="cj" x="648.65" y="658.41" font-size="15.5" fill="#333" textLength="49.8">红色（</text>
<text x="0 10.04 20.09" font-family="Liberation Mono" font-size="16.74" fill="#3c3c3c" transform="translate(697.9 659.11) scale(0.8264 1)" xml:space="preserve">Red</text>
<text class="cj" x="723.35" y="658.41" font-size="15.5" fill="#333">）</text>
<text x="0 10.04 20.09 30.13 40.18 50.22 60.26 70.31 80.35" font-family="Liberation Mono" font-size="16.74" fill="#3c3c3c" transform="translate(797 659.11) scale(0.8264 1)" xml:space="preserve">DC 15-24V</text>
<text class="cj" x="648.05" y="681.72" font-size="15.5" fill="#333" textLength="49.8">绿色（</text>
<text x="0 10.04 20.09 30.13 40.18" font-family="Liberation Mono" font-size="16.74" fill="#3c3c3c" transform="translate(697.3 682.42) scale(0.8264 1)" xml:space="preserve">Green</text>
<text class="cj" x="739.35" y="681.72" font-size="15.5" fill="#333">）</text>
<text x="0.37 10.04" font-family="Liberation Mono" font-size="16.74" fill="#3c3c3c" transform="translate(830.2 682.42) scale(0.8264 1)" xml:space="preserve"><tspan font-family="Liberation Sans">0</tspan>V</text>
<text class="cj" x="647.35" y="705.03" font-size="15.5" fill="#333" textLength="49.8">黑色（</text>
<text x="0 10.04 20.09 30.13 40.18" font-family="Liberation Mono" font-size="16.74" fill="#3c3c3c" transform="translate(696.6 705.73) scale(0.8264 1)" xml:space="preserve">Black</text>
<text class="cj" x="738.65" y="705.03" font-size="15.5" fill="#333">）</text>
<text class="cj" x="815.35" y="705.03" font-size="15.5" fill="#333" textLength="49.8">输出正</text>
<text class="cj" x="648.05" y="728.34" font-size="15.5" fill="#333" textLength="49.8">白色（</text>
<text x="0 10.04 20.09 30.13 40.18" font-family="Liberation Mono" font-size="16.74" fill="#3c3c3c" transform="translate(697.3 729.04) scale(0.8264 1)" xml:space="preserve">White</text>
<text class="cj" x="739.35" y="728.34" font-size="15.5" fill="#333">）</text>
<text class="cj" x="815.35" y="728.34" font-size="15.5" fill="#333" textLength="49.8">输出负</text>
<text class="cj" x="668.25" y="751.66" font-size="15.5" fill="#333" textLength="49.8">屏蔽线</text>
<text class="cj" x="781.55" y="751.66" font-size="15.5" fill="#333" textLength="49.8">接地（</text>
<text x="0 10.04 20.09 30.13 40.18 50.22" font-family="Liberation Mono" font-size="16.74" fill="#3c3c3c" transform="translate(830.8 752.36) scale(0.8264 1)" xml:space="preserve">Ground</text>
<text class="cj" x="881.15" y="751.66" font-size="15.5" fill="#333">）</text>
<text class="cj" x="65.45" y="606.15" font-size="18" fill="#333" textLength="101.5">电阻输出型</text>
<text class="cj" x="65.5" y="639.35" font-size="18" fill="#333">（</text>
<text x="0 11.8 23.6 35.4 47.63 59" font-family="Liberation Mono" font-size="19.67" fill="#3c3c3c" transform="translate(84.9 640.05) scale(0.8475 1)" xml:space="preserve">5K/1<tspan font-family="Liberation Sans">0</tspan>K</text>
<text class="cj" x="145.6" y="639.35" font-size="18" fill="#333">）</text>
<text class="cj" x="52.2" y="682.75" font-size="18" fill="#333" textLength="99">电压输出型</text>
<text x="0" font-family="Liberation Mono" font-size="19.47" fill="#3c3c3c" transform="translate(150.3 683.45) scale(0.8475 1)" xml:space="preserve">/</text>
<text class="cj" x="161.1" y="682.75" font-size="18" fill="#333">电</text>
<text class="cj" x="53.3" y="716.25" font-size="18" fill="#333" textLength="118.8">流输出型（三</text>
<text class="cj" x="53.3" y="750.55" font-size="18" fill="#333" textLength="59.4">线制）</text>
<text class="cj" x="477.7" y="596.45" font-size="18" fill="#333" textLength="138.6">电流输出型（二</text>
<text class="cj" x="479.4" y="629.55" font-size="18" fill="#333" textLength="59.4">线制）</text>
<text class="cj" x="473.7" y="689.05" font-size="18" fill="#333" textLength="99">电压输出型</text>
<text x="0" font-family="Liberation Mono" font-size="19.47" fill="#3c3c3c" transform="translate(571.8 689.75) scale(0.8475 1)" xml:space="preserve">/</text>
<text class="cj" x="582.6" y="689.05" font-size="18" fill="#333" textLength="39.6">电流</text>
<text class="cj" x="475.5" y="723.05" font-size="18" fill="#333" textLength="158.4">输出型（四线制）</text>
</g>
</svg>
</body>
</html>
